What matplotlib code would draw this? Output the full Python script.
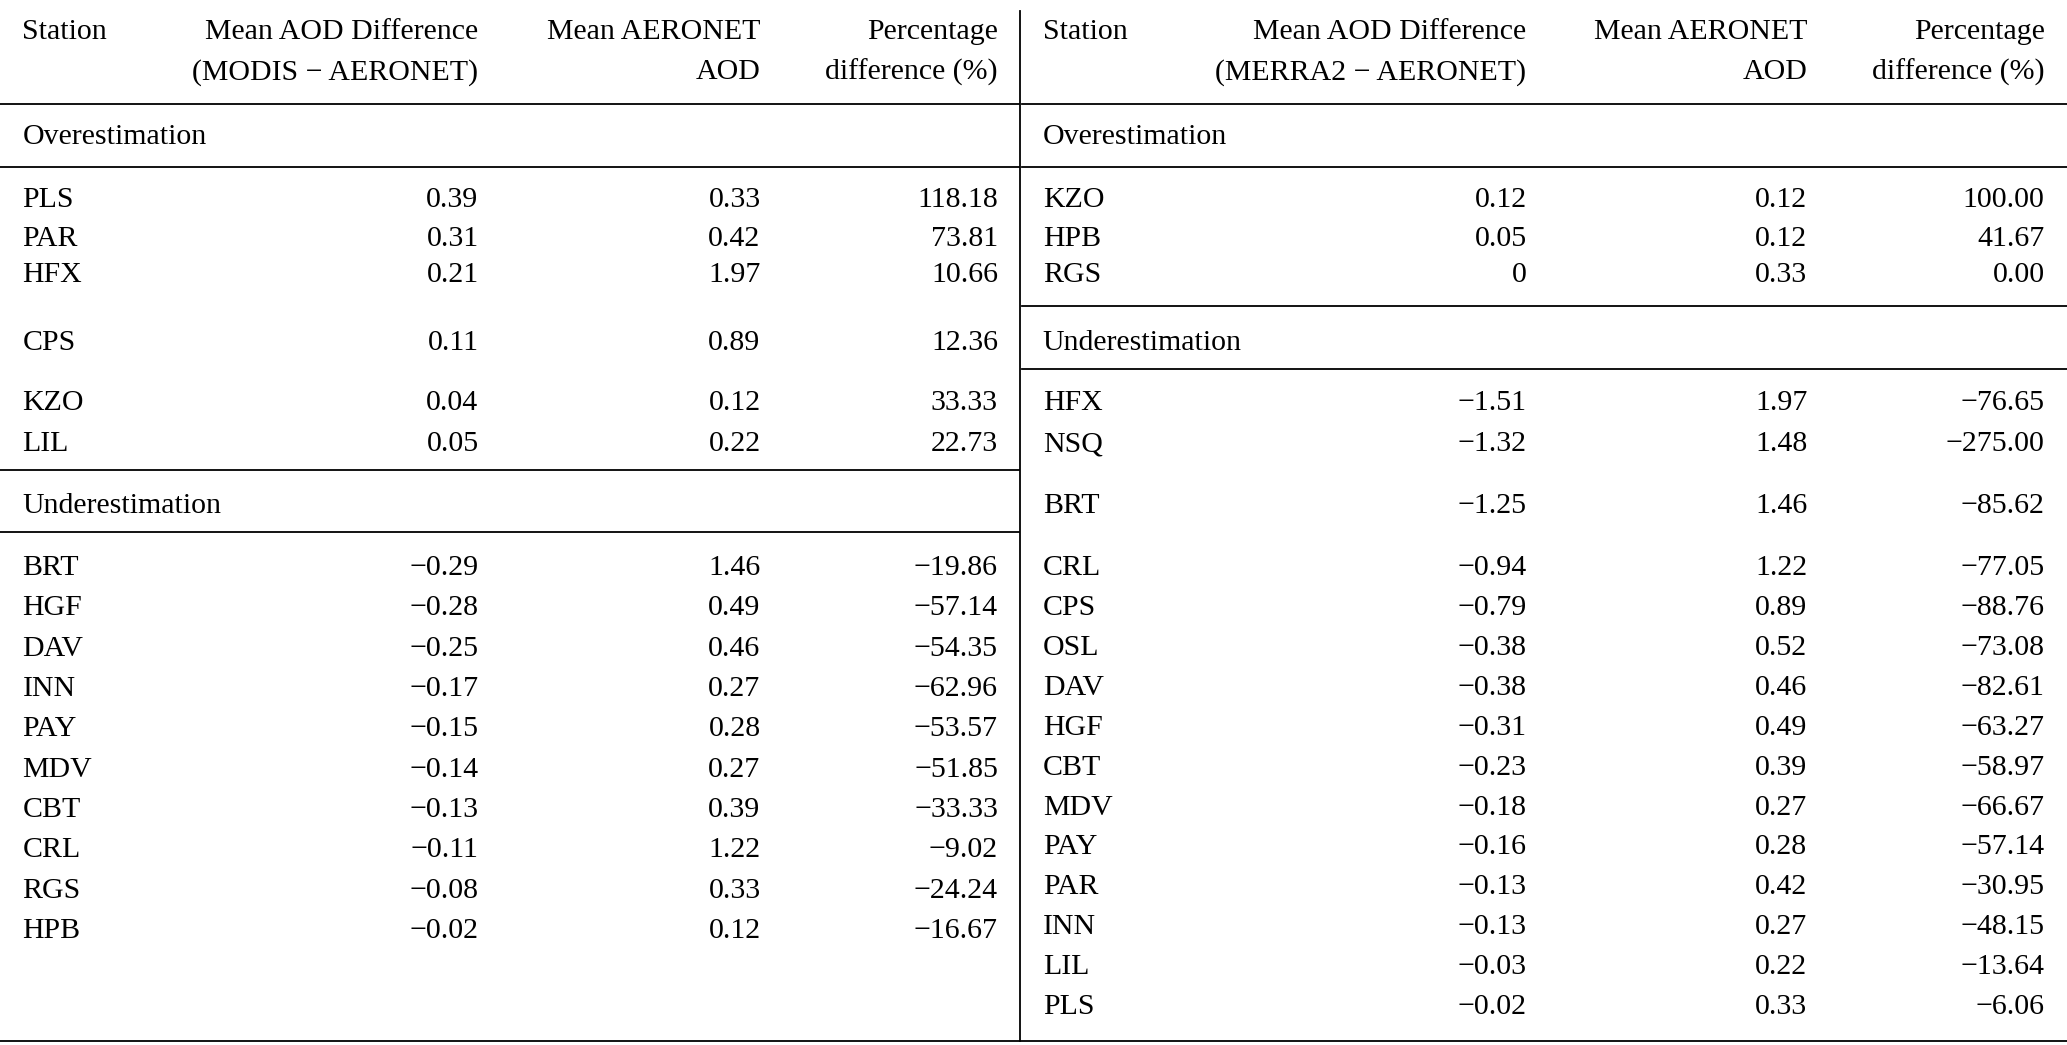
import matplotlib
matplotlib.use("Agg")
import matplotlib.pyplot as plt

# left table (MODIS)
l_over_st = ["PLS", "PAR", "HFX", "CPS", "KZO", "LIL"]
l_over_diff = ["0.39", "0.31", "0.21", "0.11", "0.04", "0.05"]
l_over_aod = ["0.33", "0.42", "1.97", "0.89", "0.12", "0.22"]
l_over_pct = ["118.18", "73.81", "10.66", "12.36", "33.33", "22.73"]
l_over_y = [150, 179, 207, 258, 304, 335]

l_under_st = ["BRT", "HGF", "DAV", "INN", "PAY", "MDV", "CBT", "CRL", "RGS", "HPB"]
l_under_diff = ["−0.29", "−0.28", "−0.25", "−0.17", "−0.15", "−0.14", "−0.13", "−0.11", "−0.08", "−0.02"]
l_under_aod = ["1.46", "0.49", "0.46", "0.27", "0.28", "0.27", "0.39", "1.22", "0.33", "0.12"]
l_under_pct = ["−19.86", "−57.14", "−54.35", "−62.96", "−53.57", "−51.85", "−33.33", "−9.02", "−24.24", "−16.67"]

# right table (MERRA2)
r_over_st = ["KZO", "HPB", "RGS"]
r_over_diff = ["0.12", "0.05", "0"]
r_over_aod = ["0.12", "0.12", "0.33"]
r_over_pct = ["100.00", "41.67", "0.00"]
r_over_y = [150, 179, 207]

r_under_st = ["HFX", "NSQ", "BRT", "CRL", "CPS", "OSL", "DAV", "HGF", "CBT", "MDV", "PAY", "PAR", "INN", "LIL", "PLS"]
r_under_diff = ["−1.51", "−1.32", "−1.25", "−0.94", "−0.79", "−0.38", "−0.38", "−0.31", "−0.23", "−0.18", "−0.16", "−0.13", "−0.13", "−0.03", "−0.02"]
r_under_aod = ["1.97", "1.48", "1.46", "1.22", "0.89", "0.52", "0.46", "0.49", "0.39", "0.27", "0.28", "0.42", "0.27", "0.22", "0.33"]
r_under_pct = ["−76.65", "−275.00", "−85.62", "−77.05", "−88.76", "−73.08", "−82.61", "−63.27", "−58.97", "−66.67", "−57.14", "−30.95", "−48.15", "−13.64", "−6.06"]

W, H = 1568, 793
fig = plt.figure(figsize=(20.67, 10.45), dpi=100)
ax = fig.add_axes([0, 0, 1, 1])
ax.set_xlim(0, W)
ax.set_ylim(H, 0)
ax.axis("off")
FS = 21.5
plt.rcParams["font.family"] = ["Liberation Serif", "DejaVu Serif"]
DY = 2


def t(x, y, s, ha="left"):
    ax.text(x, y + DY, s, ha=ha, va="center", fontsize=FS)


def hline(y, x0, x1):
    ax.plot([x0, x1], [y, y], color="black", lw=1.3)


def rows(xs, st, d, a, p, ys):
    for i in range(len(st)):
        t(xs[0], ys[i], st[i])
        t(xs[1], ys[i], d[i], "right")
        t(xs[2], ys[i], a[i], "right")
        t(xs[3], ys[i], p[i], "right")


lx = [17, 363, 577, 757]
rx = [791, 1158, 1371, 1551]

# headers
for xs, src in [(lx, "MODIS"), (rx, "MERRA2")]:
    t(xs[0], 22, "Station")
    t(xs[1], 22, "Mean AOD Difference", "right")
    t(xs[1], 53, "(" + src + " − AERONET)", "right")
    t(xs[2], 22, "Mean AERONET", "right")
    t(xs[2], 53, "AOD", "right")
    t(xs[3], 22, "Percentage", "right")
    t(xs[3], 53, "difference (%)", "right")

LX0, LX1, RX0, RX1 = 0, 773, 775, W
hline(79, LX0, LX1)
hline(79, RX0, RX1)
hline(790, LX0, RX1)
ax.plot([774, 774], [8, 790], color="black", lw=1.3)

# left
t(lx[0], 102, "Overestimation")
hline(127, LX0, LX1)
rows(lx, l_over_st, l_over_diff, l_over_aod, l_over_pct, l_over_y)
hline(357, LX0, LX1)
t(lx[0], 382, "Underestimation")
hline(404, LX0, LX1)
ly = [429 + 30.6 * i for i in range(len(l_under_st))]
rows(lx, l_under_st, l_under_diff, l_under_aod, l_under_pct, ly)

# right
t(rx[0], 102, "Overestimation")
hline(127, RX0, RX1)
rows(rx, r_over_st, r_over_diff, r_over_aod, r_over_pct, r_over_y)
hline(232, RX0, RX1)
t(rx[0], 258, "Underestimation")
hline(280, RX0, RX1)
ry = [304, 335, 382] + [429 + 30.3 * i for i in range(len(r_under_st) - 3)]
rows(rx, r_under_st, r_under_diff, r_under_aod, r_under_pct, ry)

fig.savefig("out.png", dpi=100)
